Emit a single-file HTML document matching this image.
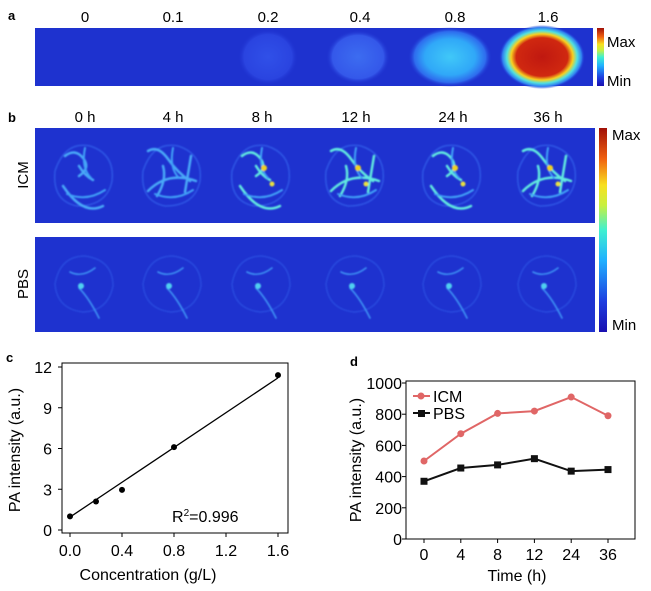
<!DOCTYPE html>
<html><head><meta charset="utf-8">
<style>
body{margin:0;background:#fff;width:651px;height:591px;overflow:hidden;font-family:"Liberation Sans",sans-serif;}
svg{position:absolute;left:0;top:0}
text{font-family:"Liberation Sans",sans-serif;}
</style></head>
<body>
<svg width="651" height="591" viewBox="0 0 651 591">
<defs>
<linearGradient id="jet" x1="0" y1="1" x2="0" y2="0">
<stop offset="0" stop-color="#1a10b0"/><stop offset="0.15" stop-color="#1e3ee0"/><stop offset="0.35" stop-color="#20b0ff"/><stop offset="0.5" stop-color="#40f0d0"/><stop offset="0.62" stop-color="#c8f040"/><stop offset="0.72" stop-color="#f8e020"/><stop offset="0.85" stop-color="#f06010"/><stop offset="1" stop-color="#a01008"/>
</linearGradient>
<radialGradient id="b02"><stop offset="0" stop-color="#3050e8"/><stop offset="0.8" stop-color="#2a44e0"/><stop offset="1" stop-color="#1e32d0" stop-opacity="0"/></radialGradient>
<radialGradient id="b04"><stop offset="0" stop-color="#3c6cf0"/><stop offset="0.8" stop-color="#3458ea"/><stop offset="1" stop-color="#1e32d0" stop-opacity="0"/></radialGradient>
<radialGradient id="b08"><stop offset="0" stop-color="#40c8f8"/><stop offset="0.6" stop-color="#30a8f8"/><stop offset="0.85" stop-color="#2e6cee"/><stop offset="1" stop-color="#1e32d0" stop-opacity="0"/></radialGradient>
<radialGradient id="b16"><stop offset="0" stop-color="#c01810"/><stop offset="0.6" stop-color="#d02810"/><stop offset="0.72" stop-color="#f8d020"/><stop offset="0.82" stop-color="#50e0e0"/><stop offset="0.92" stop-color="#3080f0"/><stop offset="1" stop-color="#1e32d0" stop-opacity="0"/></radialGradient>
<filter id="blur"><feGaussianBlur stdDeviation="0.7"/></filter>
</defs>

<text x="8" y="20" font-size="13" font-weight="bold">a</text>
<g font-size="15" text-anchor="middle">
<text x="85" y="22">0</text><text x="173" y="22">0.1</text><text x="268" y="22">0.2</text><text x="360" y="22">0.4</text><text x="455" y="22">0.8</text><text x="548" y="22">1.6</text>
</g>
<rect x="35" y="28" width="558" height="58" fill="#1e32cf"/>
<ellipse cx="268" cy="57" rx="30" ry="28" fill="url(#b02)"/>
<ellipse cx="358" cy="57" rx="32" ry="27" fill="url(#b04)"/>
<ellipse cx="450" cy="57" rx="42" ry="30" fill="url(#b08)"/>
<ellipse cx="542" cy="57" rx="43" ry="32" fill="url(#b16)"/>
<rect x="597" y="28" width="7" height="58" fill="url(#jet)"/>
<text x="607" y="47" font-size="15">Max</text>
<text x="607" y="86" font-size="15">Min</text>

<text x="8" y="122" font-size="13" font-weight="bold">b</text>
<g font-size="15" text-anchor="middle">
<text x="85" y="122">0 h</text><text x="173" y="122">4 h</text><text x="262" y="122">8 h</text><text x="356" y="122">12 h</text><text x="453" y="122">24 h</text><text x="548" y="122">36 h</text>
</g>
<rect x="35" y="128" width="560" height="95" fill="#1e32cf"/>
<rect x="35" y="237" width="560" height="95" fill="#1e32cf"/>
<g id="vessels" fill="none" stroke-linecap="round" filter="url(#blur)"></g>
<g id="pvessels" fill="none" stroke-linecap="round" filter="url(#blur)"></g>
<text transform="translate(28,175) rotate(-90)" font-size="15" text-anchor="middle">ICM</text>
<text transform="translate(28,284) rotate(-90)" font-size="15" text-anchor="middle">PBS</text>
<rect x="599" y="128" width="8" height="204" fill="url(#jet)"/>
<text x="612" y="140" font-size="15">Max</text>
<text x="612" y="330" font-size="15">Min</text>

<text x="6" y="362" font-size="13" font-weight="bold">c</text>
<g id="chartc"></g>
<text x="350" y="366" font-size="13" font-weight="bold">d</text>
<g id="chartd"></g>
</svg>
<script>
const cX=[0,0.2,0.4,0.8,1.6];
const cY=[1.0,2.1,2.95,6.1,11.4];
const cXTicks=[0,0.4,0.8,1.2,1.6];
const cXTickLabels=["0.0","0.4","0.8","1.2","1.6"];
const cYTicks=[0,3,6,9,12];
const cFit=[0.95,11.2];
const dCats=["0","4","8","12","24","36"];
const dICM=[500,675,805,820,910,790];
const dPBS=[370,455,475,515,435,445];
const dYTicks=[0,200,400,600,800,1000];

const NS="http://www.w3.org/2000/svg";
function mk(p,t,a,txt){const e=document.createElementNS(NS,t);for(const k in a)e.setAttribute(k,a[k]);if(txt!=null)e.textContent=txt;p.appendChild(e);return e;}

const vg=document.getElementById('vessels');
const tiles=[85,173,262,356,453,548];
const inten=[0.3,0.6,0.8,0.8,0.9,0.8];
const shapes=["M-20,-20 q10,-8 18,2 q8,10 -4,18 M-6,-10 q6,10 14,14 M-22,10 q20,30 40,20","M-25,-25 q10,-6 20,8 q10,14 22,22 M-25,15 q20,-20 48,-10 M18,-20 l-6,36 M-10,-10 q4,14 -6,30"];
tiles.forEach((cx,i)=>{
  const g=mk(vg,'g',{transform:`translate(${cx},176)`});
  const col=inten[i]>0.7?"#60e8e0":"#48a8f8";
  mk(g,'path',{d:"M-30,-5 q10,-30 35,-25 q25,8 22,35 q-5,25 -35,25 q-25,-5 -22,-35",stroke:"#3464ee","stroke-width":1.5,"stroke-opacity":0.7});
  mk(g,'path',{d:shapes[i%2],stroke:col,"stroke-width":2.5});
  mk(g,'path',{d:"M-18,18 q20,8 38,-4 M0,-28 q-4,20 6,30",stroke:"#40a0f8","stroke-width":2});
  if(inten[i]>0.7){mk(g,'circle',{cx:2,cy:-8,r:3,fill:"#f0d020"});mk(g,'circle',{cx:10,cy:8,r:2.5,fill:"#e8e040"});}
  const p=mk(document.getElementById('pvessels'),'g',{transform:`translate(${cx},284)`});
  mk(p,'path',{d:"M-30,0 q5,-28 30,-28 q28,4 28,30 q-5,25 -30,26 q-26,-3 -28,-28",stroke:"#2e5ae8","stroke-width":1.2,"stroke-opacity":0.7});
  mk(p,'path',{d:"M-15,-12 q12,6 25,-4 M-6,4 q10,10 20,30",stroke:"#3c90f4","stroke-width":1.6});
  mk(p,'circle',{cx:-4,cy:2,r:3,fill:"#50d0f0"});
});

const C=document.getElementById('chartc');
const cx0=62,cx1=288,cyTop=367,cyBot=533;
const xc=v=>70+v/1.6*208;
const yc=v=>530-v/12*163;
mk(C,'rect',{x:cx0,y:cyTop-4,width:cx1-cx0,height:cyBot-cyTop+4,fill:"none",stroke:"#000","stroke-width":1});
cYTicks.forEach(t=>{mk(C,'line',{x1:cx0,x2:cx0-4,y1:yc(t),y2:yc(t),stroke:"#000"});
 const e=mk(C,'text',{x:cx0-10,y:yc(t)+6,"font-size":16,"text-anchor":"end"},String(t));});
cXTicks.forEach((t,i)=>{mk(C,'line',{x1:xc(t),x2:xc(t),y1:cyBot,y2:cyBot+4,stroke:"#000"});
 const e=mk(C,'text',{x:xc(t),y:556,"font-size":16,"text-anchor":"middle"},cXTickLabels[i]);});
const fit=mk(C,'line',{x1:xc(0),y1:yc(cFit[0]),x2:xc(1.6),y2:yc(cFit[1]),stroke:"#000","stroke-width":1.3});

cX.forEach((x,i)=>{const e=mk(C,'circle',{cx:xc(x),cy:yc(cY[i]),r:3,fill:"#000"});});
let e=mk(C,'text',{x:172,y:522,"font-size":16},null);e.innerHTML='R<tspan font-size="10" dy="-6">2</tspan><tspan dy="6">=0.996</tspan>';

e=mk(C,'text',{x:148,y:580,"font-size":16,"text-anchor":"middle"},"Concentration (g/L)");
e=mk(C,'text',{transform:"translate(20,450) rotate(-90)","font-size":16,"text-anchor":"middle"},"PA intensity (a.u.)");

const D=document.getElementById('chartd');
const dx0=406,dx1=635;
const yd=v=>539-v/1000*156;
const xd=i=>424+i*36.8;
mk(D,'rect',{x:dx0,y:yd(1000)-2,width:dx1-dx0,height:539-yd(1000)+2,fill:"none",stroke:"#000"});
dYTicks.forEach(t=>{mk(D,'line',{x1:dx0,x2:dx0-4,y1:yd(t),y2:yd(t),stroke:"#000"});
 const e=mk(D,'text',{x:dx0-4,y:yd(t)+6,"font-size":16,"text-anchor":"end"},String(t));});
dCats.forEach((c,i)=>{mk(D,'line',{x1:xd(i),x2:xd(i),y1:539,y2:543,stroke:"#000"});
 const e=mk(D,'text',{x:xd(i),y:560,"font-size":16,"text-anchor":"middle"},c);});
function series(vals,col,sq,name){
 const l=mk(D,'polyline',{points:vals.map((v,i)=>xd(i)+","+yd(v)).join(" "),fill:"none",stroke:col,"stroke-width":2});
 
 vals.forEach((v,i)=>{const m=sq?mk(D,'rect',{x:xd(i)-3.5,y:yd(v)-3.5,width:7,height:7,fill:col}):mk(D,'circle',{cx:xd(i),cy:yd(v),r:3.5,fill:col});
  });
}
series(dICM,"#e06666",false,"icm");
series(dPBS,"#111",true,"pbs");
mk(D,'line',{x1:413,x2:430,y1:396,y2:396,stroke:"#e06666","stroke-width":2});mk(D,'circle',{cx:421,cy:396,r:3.5,fill:"#e06666"});
e=mk(D,'text',{x:433,y:402,"font-size":16},"ICM");
mk(D,'line',{x1:413,x2:430,y1:413,y2:413,stroke:"#111","stroke-width":2});mk(D,'rect',{x:418,y:410,width:7,height:7,fill:"#111"});
e=mk(D,'text',{x:433,y:419,"font-size":16},"PBS");
e=mk(D,'text',{x:517,y:581,"font-size":16,"text-anchor":"middle"},"Time (h)");
e=mk(D,'text',{transform:"translate(361,460) rotate(-90)","font-size":16,"text-anchor":"middle"},"PA intensity (a.u.)");
</script>
</body></html>
